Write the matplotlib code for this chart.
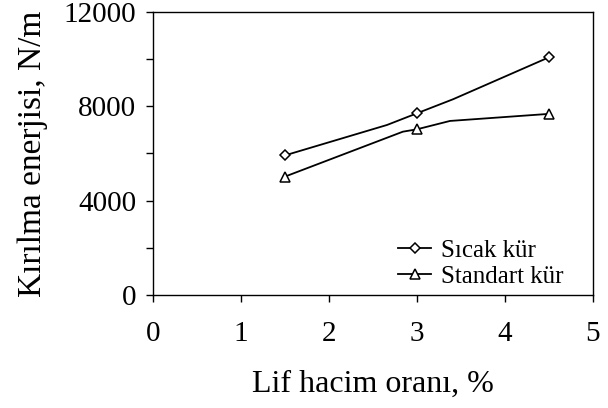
import matplotlib
matplotlib.use("Agg")
import matplotlib.pyplot as plt
from matplotlib.ticker import MultipleLocator

plt.rcParams['font.family'] = ['Liberation Serif', 'DejaVu Serif']

# olculen noktalar (isaretli)
lif = [1.5, 3, 4.5]
# cizgi koseleri okunarak alindi
sicak_x = [1.5, 2.66, 3.0, 3.41, 4.5]
sicak_y = [5920, 7210, 7705, 8300, 10080]
standart_x = [1.5, 2.84, 3.0, 3.375, 4.5]
standart_y = [5020, 6925, 7026, 7380, 7680]
sicak_mark = [0, 2, 4]
standart_mark = [0, 2, 4]

fig = plt.figure(figsize=(6.08, 4.08), dpi=100)
ax = fig.add_axes([0.2516, 0.277, 0.7237, 0.6936])

ax.plot(sicak_x, sicak_y, color='black', lw=1.3, marker='D', ms=5,
        mfc='white', mec='black', mew=1.1, markevery=sicak_mark, label='Sıcak kür')
ax.plot(standart_x, standart_y, color='black', lw=1.3, marker='^', ms=6.5,
        mfc='white', mec='black', mew=1.1, markevery=standart_mark, label='Standart kür')

ax.set_xlim(0, 5)
ax.set_ylim(0, 12000)
ax.xaxis.set_major_locator(MultipleLocator(1))
ax.yaxis.set_major_locator(MultipleLocator(4000))
ax.yaxis.set_minor_locator(MultipleLocator(2000))
ax.tick_params(axis='both', which='both', direction='out', length=5, width=1, labelsize=21)
ax.tick_params(axis='x', pad=14)
ax.tick_params(axis='y', pad=7)
for s in ax.spines.values():
    s.set_linewidth(1)

ax.set_xlabel('Lif hacim oranı, %', fontsize=23, labelpad=16)
ax.set_ylabel('Kırılma enerjisi, N/m', fontsize=24, labelpad=11)

ax.legend(loc='lower right', bbox_to_anchor=(0.984, -0.055), frameon=False,
          fontsize=18, handlelength=1.3, handletextpad=0.4, labelspacing=0.15)

plt.savefig('out.png', dpi=100)
